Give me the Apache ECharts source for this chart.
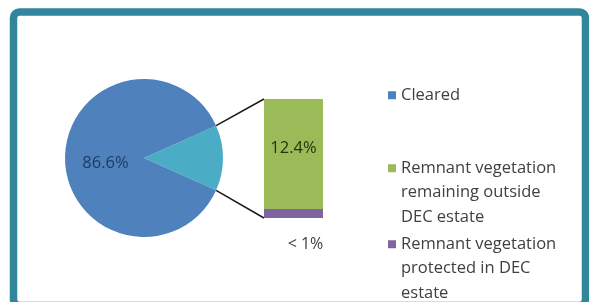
<!DOCTYPE html>
<html>
<head>
<meta charset="utf-8">
<script src="https://cdn.jsdelivr.net/npm/echarts@6/dist/echarts.min.js"></script>
<style>
  html, body { margin: 0; padding: 0; background: #fff; }
  #main { width: 589px; height: 302px; }
</style>
</head>
<body>
<div id="main"></div>
<script>
// data
var pieNames = ['Cleared', 'Remnant vegetation'];
var pieValues = [86.6, 13.4];
var pieLabels = ['86.6%', ''];
var barNames = ['Remnant vegetation protected in DEC estate', 'Remnant vegetation remaining outside DEC estate'];
var barValues = [1.0, 12.4];   // bottom (purple), top (green)
var barLabels = ['< 1%', '12.4%'];
var legendLines = {
  'Cleared': 'Cleared',
  'Remnant vegetation remaining outside DEC estate': 'Remnant vegetation\nremaining outside\nDEC estate',
  'Remnant vegetation protected in DEC estate': 'Remnant vegetation\nprotected in DEC\nestate'
};

var blue = '#4f81bd', teal = '#4bacc6', green = '#9bbb59', purple = '#8064a2';
var font = 'Open Sans';

var pieCenter = [144, 158], pieR = 79;
var gridL = 264, gridT = 99, gridW = 59, gridH = 119;
var barTotal = barValues[0] + barValues[1];
var pieTotal = pieValues[0] + pieValues[1];
var halfAngle = pieValues[1] / pieTotal * 180;

var myChart = echarts.init(document.getElementById('main'));

// icon sits on the first text line: pad with blank lines above so the
// first real line is the middle one
function legendBox(name, top) {
  var lines = legendLines[name].split('\n').length;
  var pad = new Array(lines).join('\n');
  return {
    orient: 'vertical',
    left: 388,
    top: top,
    padding: 0,
    itemWidth: 8,
    itemHeight: 8,
    itemGap: 0,
    icon: 'rect',
    selectedMode: false,
    data: [name],
    formatter: function (n) { return pad + legendLines[n]; },
    textStyle: {
      fontFamily: font, fontSize: 16.5, color: '#404040',
      lineHeight: 24.5
    }
  };
}

var option = {
  animation: false,
  backgroundColor: '#fff',
  legend: [
    legendBox('Cleared', 83),
    legendBox(barNames[1], 107),
    legendBox(barNames[0], 183)
  ],
  grid: { left: gridL, top: gridT, width: gridW, height: gridH },
  xAxis: { type: 'category', data: ['r'], show: false },
  yAxis: { type: 'value', min: 0, max: barTotal, show: false },
  series: [
    {
      type: 'pie',
      center: pieCenter,
      radius: pieR,
      startAngle: halfAngle,
      clockwise: true,
      silent: true,
      labelLine: { show: false },
      data: [
        { name: pieNames[1], value: pieValues[1], itemStyle: { color: teal }, label: { show: false } },
        {
          name: pieNames[0], value: pieValues[0], itemStyle: { color: blue },
          label: {
            show: true, position: 'inside', formatter: pieLabels[0],
            fontFamily: font, fontSize: 16.5, color: '#1f3a60', offset: [4, 5]
          }
        }
      ]
    },
    {
      type: 'bar', name: barNames[0], stack: 'rem',
      barWidth: '100%', barCategoryGap: 0,
      itemStyle: { color: purple },
      label: {
        show: true, position: 'bottom', distance: 18, offset: [12, 0],
        formatter: barLabels[0], fontFamily: font, fontSize: 16, color: '#404040'
      },
      data: [barValues[0]]
    },
    {
      type: 'bar', name: barNames[1], stack: 'rem',
      barWidth: '100%',
      itemStyle: { color: green },
      label: {
        show: true, position: 'inside', offset: [0, -6],
        formatter: barLabels[1], fontFamily: font, fontSize: 16.5, color: '#27330f'
      },
      data: [barValues[1]]
    }
  ]
};
myChart.setOption(option);

// connector lines from the teal slice edges to the bar corners
var a = halfAngle * Math.PI / 180;
var p1 = [pieCenter[0] + pieR * Math.cos(a), pieCenter[1] - pieR * Math.sin(a)];
var p2 = [pieCenter[0] + pieR * Math.cos(a), pieCenter[1] + pieR * Math.sin(a)];
var yTop = myChart.convertToPixel({ yAxisIndex: 0 }, barTotal);
var yBot = myChart.convertToPixel({ yAxisIndex: 0 }, 0);

myChart.setOption({
  graphic: [
    {
      type: 'line', silent: true,
      shape: { x1: p1[0], y1: p1[1], x2: gridL, y2: yTop },
      style: { stroke: '#1a1a1a', lineWidth: 1.5 }
    },
    {
      type: 'line', silent: true,
      shape: { x1: p2[0], y1: p2[1], x2: gridL, y2: yBot },
      style: { stroke: '#1a1a1a', lineWidth: 1.5 }
    },
    {
      type: 'rect', silent: true, z: 100,
      shape: { x: 13.5, y: 12, width: 572, height: 293.5, r: 6 },
      style: { fill: null, stroke: '#31869b', lineWidth: 7.5 }
    }
  ]
});
</script>
</body>
</html>
